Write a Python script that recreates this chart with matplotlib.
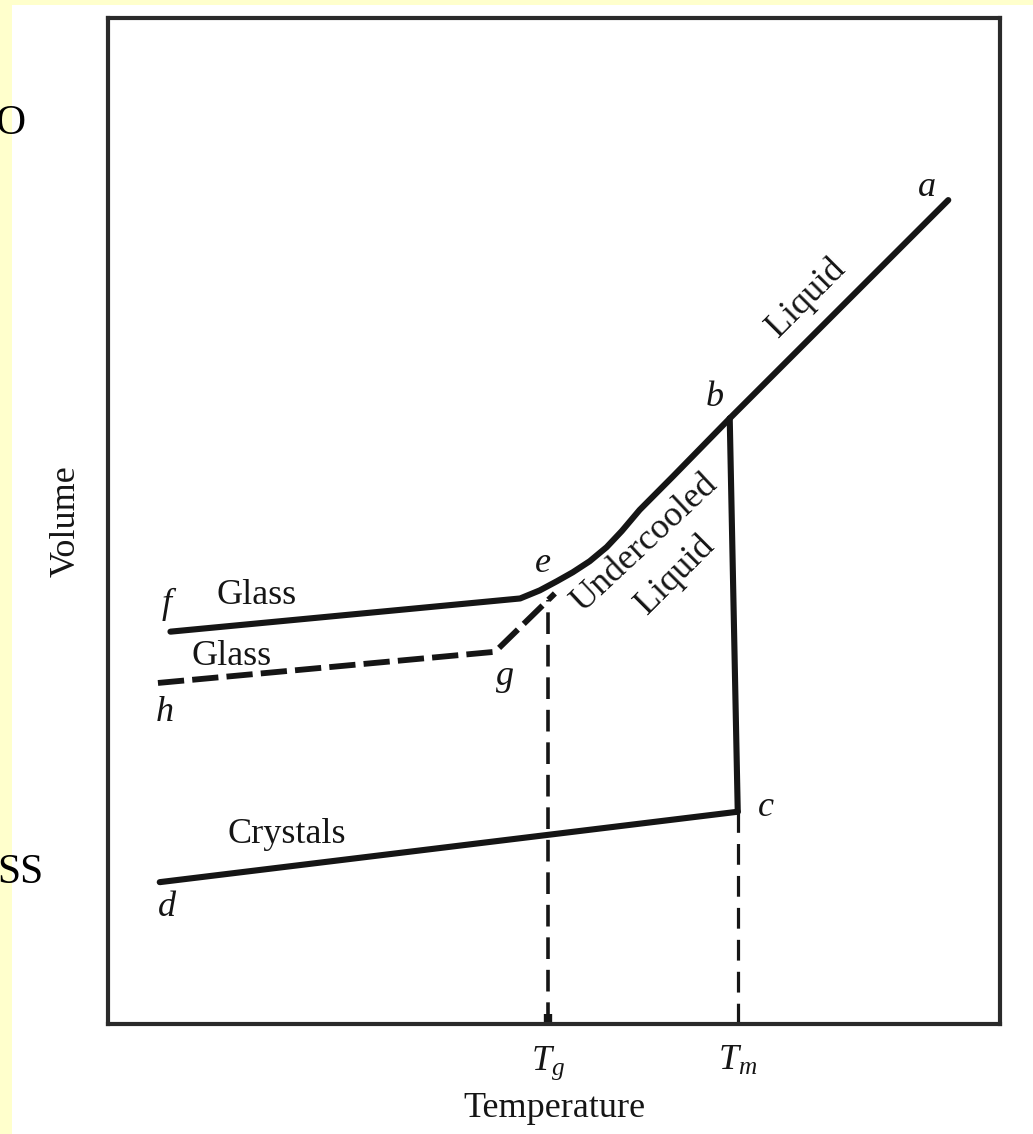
import matplotlib
matplotlib.use("Agg")
import matplotlib.pyplot as plt
from matplotlib.patches import Rectangle

plt.rcParams['font.family'] = ['Liberation Serif', 'DejaVu Serif']
plt.rcParams['mathtext.fontset'] = 'custom'
plt.rcParams['mathtext.rm'] = 'Liberation Serif'
plt.rcParams['mathtext.it'] = 'Liberation Serif:italic'

# arbitrary temperature / volume units
liquid_T = [6.97, 9.42]
liquid_V = [6.02, 8.19]
melt_T = [6.97, 7.06]
melt_V = [6.02, 2.11]
crystal_T = [0.58, 7.06]
crystal_V = [1.41, 2.11]
# slow cooling: glass f -> e -> undercooled liquid -> b
slow_T = [0.70, 4.62, 4.84, 5.03, 5.21, 5.40, 5.59, 5.76, 5.96, 6.33, 6.97]
slow_V = [3.90, 4.23, 4.31, 4.40, 4.49, 4.60, 4.74, 4.90, 5.11, 5.44, 6.02]
# faster path h -> g -> joins curve
fast_T = [0.56, 4.34, 5.01]
fast_V = [3.39, 3.70, 4.28]
Tg = 4.93
Tm = 7.06
Vg = 4.21
Vm = 2.11

point_names = ['a', 'b', 'c', 'd', 'e', 'f', 'g', 'h']
point_T = [9.18, 6.80, 7.37, 0.66, 4.87, 0.66, 4.45, 0.64]
point_V = [8.32, 6.23, 2.15, 1.16, 4.58, 4.17, 3.45, 3.10]

region_names = ['Glass', 'Glass', 'Crystals', 'Liquid', 'Undercooled', 'Liquid']
region_T = [1.67, 1.39, 2.00, 7.83, 6.01, 6.36]
region_V = [4.26, 3.65, 1.88, 7.22, 4.78, 4.46]
region_rot = [0, 0, 0, 45, 43, 45]

ink = '#151515'
fs = 26

fig = plt.figure(figsize=(10.33, 11.34), dpi=100, facecolor='#FFFFCC')
fig.patches.append(Rectangle((12 / 1033, 0), 1 - 12 / 1033, 1 - 5 / 1134,
                             transform=fig.transFigure, facecolor='white',
                             edgecolor='none', zorder=-10))

ax = fig.add_axes([108 / 1033, 110 / 1134, 892 / 1033, 1006 / 1134])
ax.set_facecolor('none')
ax.set_xlim(0, 10)
ax.set_ylim(0, 10)
for sp in ax.spines.values():
    sp.set_linewidth(3)
    sp.set_color('#2a2a2a')

solid = dict(color=ink, lw=4.4, solid_capstyle='round', solid_joinstyle='round')
ax.plot(liquid_T, liquid_V, **solid)
ax.plot(melt_T, melt_V, **solid)
ax.plot(crystal_T, crystal_V, **solid)
ax.plot(slow_T, slow_V, **solid)
ax.plot(fast_T, fast_V, color=ink, lw=4.2, dashes=(4.5, 1.4),
        dash_capstyle='butt', dash_joinstyle='round')

ax.plot([Tg, Tg], [0, Vg], color=ink, lw=2.6, dashes=(6.0, 3.0))
ax.plot([Tm, Tm], [0, Vm], color=ink, lw=2.3, dashes=(6.5, 3.5))
ax.plot([Tg, Tg], [0, 0.1], color=ink, lw=6, solid_capstyle='butt')

for name, t, v in zip(point_names, point_T, point_V):
    ax.text(t, v, name, fontsize=fs, style='italic', color=ink,
            ha='center', va='center')

for name, t, v, r in zip(region_names, region_T, region_V, region_rot):
    ax.text(t, v, name, fontsize=fs, color=ink, rotation=r,
            rotation_mode='anchor', ha='center', va='center')

ax.set_xticks([Tg, Tm], ['$T_g$', '$T_m$'])
ax.tick_params(axis='x', length=0, pad=15, labelsize=fs, labelcolor=ink)
ax.set_yticks([])
ax.set_xlabel('Temperature', fontsize=fs, color=ink, labelpad=7)
ax.set_ylabel('Volume', fontsize=fs, color=ink, labelpad=18)

# slide text cut off at the left edge
fig.text(25 / 1033, 1 - 124 / 1134, 'O', fontsize=30, ha='right',
         va='center', color='black')
fig.text(43 / 1033, 1 - 873 / 1134, 'SS', fontsize=30, ha='right',
         va='center', color='black')

fig.savefig('out.png', dpi=100, facecolor=fig.get_facecolor())
